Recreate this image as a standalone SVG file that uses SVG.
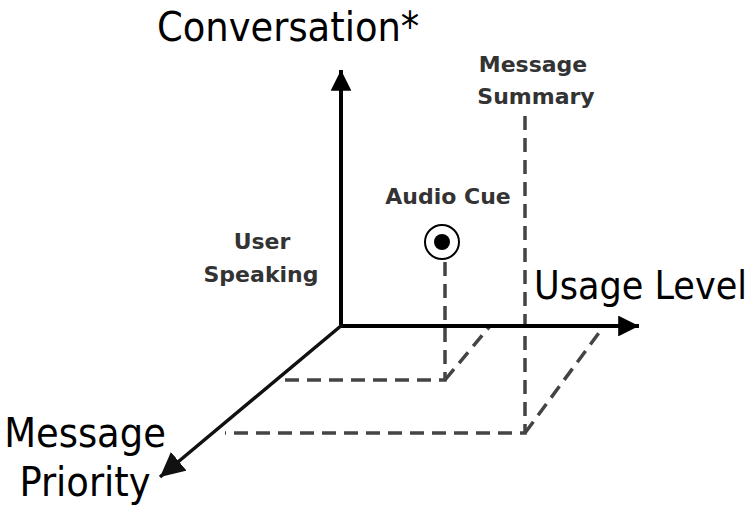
<svg xmlns="http://www.w3.org/2000/svg" width="755" height="506" viewBox="0 0 755 506">
<style>
.ax{stroke:#000;stroke-width:4;fill:none}
.ax3{stroke:#111;stroke-width:3.5;fill:none}
.ds{stroke:#444;stroke-width:3.5;fill:none;stroke-dasharray:14 8}
.big{font-family:"DejaVu Sans Condensed","DejaVu Sans",sans-serif;font-size:41px;fill:#000}
.lbl{font-family:"DejaVu Sans","Verdana",sans-serif;font-weight:bold;font-size:22px;fill:#333}
</style>
<defs>
<marker id="ah" viewBox="0 0 10 10" refX="10" refY="5" markerWidth="5.2" markerHeight="5.2" markerUnits="strokeWidth" orient="auto">
<path d="M0,0 L10,5 L0,10 z" fill="#000"/>
</marker>
<marker id="ah2" viewBox="0 0 10 10" refX="10" refY="5" markerWidth="7" markerHeight="7" markerUnits="strokeWidth" orient="auto">
<path d="M0,0 L10,5 L0,10 z" fill="#111"/>
</marker>
</defs>
<g id="connectors">
<path class="ds" d="M445,262 V380 H283"/>
<path class="ds" d="M445,380 L490,326"/>
<path class="ds" d="M525,116 V433 H225"/>
<path class="ds" d="M525,433 L601,330"/>
<line class="ax" x1="341" y1="328" x2="341" y2="70" marker-end="url(#ah)"/>
<line class="ax" x1="339" y1="326" x2="639" y2="326" marker-end="url(#ah)"/>
<line class="ax3" x1="342" y1="325" x2="160" y2="477" marker-end="url(#ah2)"/>
</g>
<g id="axis-conversation"><text class="big" x="157" y="41">Conversation*</text></g>
<g id="axis-usage"><text class="big" x="534" y="299" style="font-size:39px">Usage Level</text></g>
<g id="axis-priority"><text class="big" x="85" y="447" text-anchor="middle">Message</text><text class="big" x="85" y="496" text-anchor="middle">Priority</text></g>
<g id="message-summary"><text class="lbl" x="533" y="72" text-anchor="middle">Message</text><text class="lbl" x="536" y="104" text-anchor="middle">Summary</text></g>
<g id="audio-cue"><text class="lbl" x="448" y="204" text-anchor="middle">Audio Cue</text>
<circle cx="442" cy="242" r="17" fill="#fff" stroke="#000" stroke-width="2"/>
<circle cx="442" cy="242" r="8" fill="#000"/></g>
<g id="user-speaking"><text class="lbl" x="262" y="249" text-anchor="middle">User</text><text class="lbl" x="261" y="282" text-anchor="middle">Speaking</text></g>
</svg>
